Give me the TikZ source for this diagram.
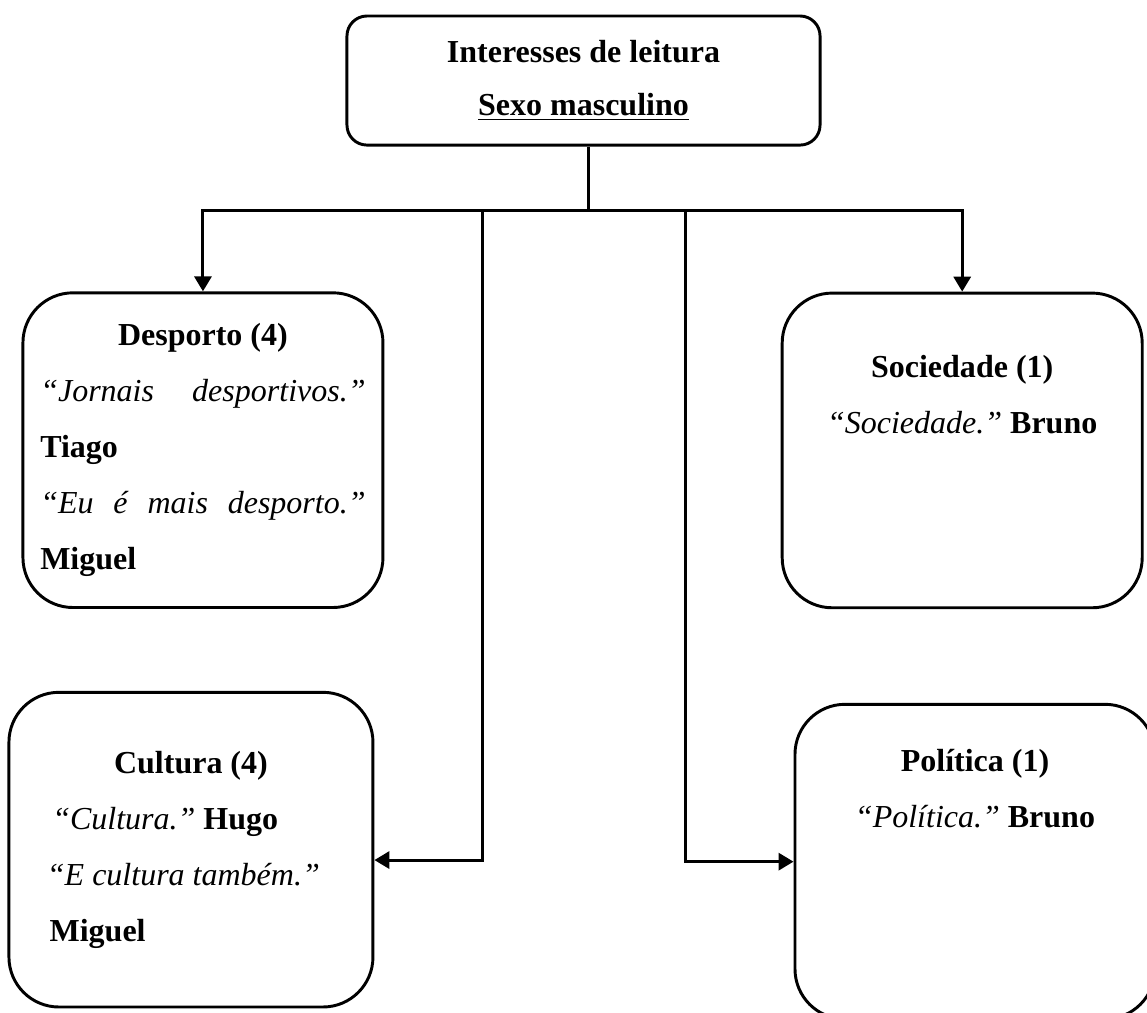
\documentclass[tikz,border=0pt]{standalone}
\usepackage{fontspec}
\setmainfont{Liberation Serif}
\usepackage{tikz}
\usetikzlibrary{arrows.meta}
\tikzstyle{tema} = [rectangle, draw, rounded corners=18.75pt, minimum width=135pt, minimum height=118pt, align=center]
\tikzstyle{seta} = [-{Triangle[length=5.6pt,width=6.4pt]}]

\begin{document}
\begin{tikzpicture}[line width=1.1pt, font={\fontsize{12pt}{21pt}\selectfont\frenchspacing}]
  \useasboundingbox (0pt,0pt) rectangle (430.1pt,-379.5pt);
  \draw (218.8pt, -30.2pt)node[tema, rounded corners=7.5pt, minimum width=177.4pt, minimum height=48.4pt, font={\fontsize{12pt}{20pt}\selectfont}](tit){\textbf{Interesses de leitura}\\ \textbf{\underline{Sexo masculino}}};
  \draw (76.1pt, -168.8pt)node[tema, text width=122pt, align=left](desp){\spaceskip=0pt\xspaceskip=0pt
    \mbox{}\hfill\textbf{Desporto (4)}\hfill\mbox{}\\
    \textit{“Jornais\hfill desportivos.”}\\
    \textbf{Tiago}\\
    \textit{“Eu\hfill é\hfill mais\hfill desporto.”}\\
    \textbf{Miguel}};
  \draw (360.8pt, -168.9pt)node[tema](soc){\textbf{Sociedade (1)}\\ \textit{“Sociedade.”} \textbf{Bruno}\\ \mbox{}\\ \mbox{}};
  \draw (71.6pt, -318.6pt)node[tema, minimum width=136.5pt, text width=108pt, align=left](cult){\spaceskip=0pt\xspaceskip=0pt
    \mbox{}\hfill\textbf{Cultura (4)}\hfill\mbox{}\\
    \hspace*{2pt}\textit{“Cultura.”} \textbf{Hugo}\\
    \textit{“E cultura também.”}\\
    \hspace*{1pt}\textbf{Miguel}};
  \draw (365.6pt, -323.1pt)node[tema](pol){\textbf{Política (1)}\\ \textit{“Política.”} \textbf{Bruno}\\ \mbox{}\\ \mbox{}\\[-8pt] \mbox{}};
  % ligacoes
  \coordinate (hub) at (220.5pt, -78.8pt);
  \coordinate (esq) at (180.8pt, -78.8pt);
  \coordinate (dir) at (256.9pt, -78.8pt);
  \draw (hub |- tit.south) -- (hub);
  \draw[seta] (hub) -| (desp.north);
  \draw[seta] (hub) -| (soc.north);
  \draw[seta] (esq) |- ([yshift=-3.9pt]cult.east);
  \draw[seta] (dir) |- (pol.west);
\end{tikzpicture}
\end{document}
